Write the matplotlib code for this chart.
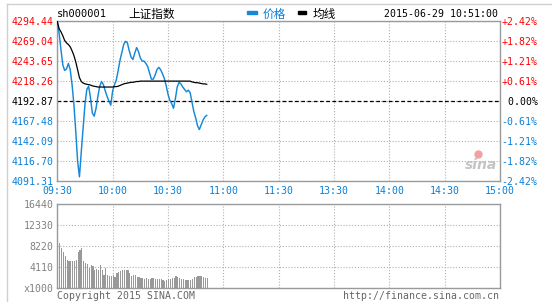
"""Intraday chart of sh000001 (上证指数) in the sina finance style."""

import numpy as np
import matplotlib.pyplot as plt
from matplotlib.patches import Rectangle
from matplotlib.lines import Line2D

W, H, DPI = 552, 302, 100

prev_close = 4192.87

# minute data 09:30 .. 10:51
price = [4294.4, 4279, 4258, 4239, 4232, 4234, 4241, 4233, 4214, 4189,
         4155, 4117, 4097, 4129, 4159, 4189, 4208, 4212, 4197, 4178,
         4174, 4184, 4199, 4212, 4218, 4214, 4206, 4199, 4193, 4188,
         4206, 4214, 4220, 4232, 4245, 4255, 4265, 4269, 4267, 4257,
         4249, 4246, 4254, 4261, 4256, 4248, 4244, 4244, 4241, 4237,
         4229, 4221, 4221, 4226, 4233, 4236, 4233, 4228, 4222, 4213,
         4202, 4194, 4190, 4184, 4196, 4211, 4217, 4215, 4211, 4208,
         4205, 4207, 4204, 4192, 4180, 4172, 4162, 4157, 4163, 4169,
         4173, 4175]
avg_price = [4294, 4285, 4281, 4276, 4270, 4267, 4265, 4262, 4257, 4251,
             4243, 4233, 4223, 4218, 4216, 4215, 4214.5, 4214, 4213.5, 4212.5,
             4212, 4211.5, 4211, 4211, 4211, 4211, 4211, 4211, 4211, 4211,
             4211, 4211.5, 4211.5, 4212, 4213, 4214, 4215, 4215.5, 4216, 4216.5,
             4217, 4217, 4217.5, 4218, 4218, 4218.5, 4218.5, 4218.5, 4218.5, 4218.5,
             4218.5, 4218.5, 4218.5, 4218.5, 4218.5, 4218.5, 4218.5, 4218.5, 4218.5, 4218.5,
             4218.5, 4218.5, 4218.5, 4218.5, 4218.5, 4218.5, 4218.5, 4218.5, 4218.5, 4218.5,
             4218.5, 4218.5, 4218.5, 4217.5, 4217, 4216.5, 4216.5, 4216, 4215.5, 4215,
             4215, 4214.5]
volume = [16440, 8890, 7800, 7020, 6240, 5590, 5265, 5395, 5265, 5395,
          5590, 7085, 7540, 7800, 5395, 4940, 4745, 3965, 4615, 4420,
          3510, 3835, 3640, 4615, 3510, 2665, 3965, 2665, 2340, 2470,
          2665, 2210, 2990, 3185, 3315, 3510, 3640, 3640, 3510, 2990,
          2470, 2665, 2535, 2210, 2270, 2070, 1940, 1810, 1940, 1810,
          1880, 1940, 2070, 1810, 1880, 1810, 1750, 1620, 1490, 1620,
          1750, 1880, 1940, 2070, 2460, 2270, 1940, 1810, 1750, 1550,
          1550, 1550, 1620, 1750, 2270, 2270, 2330, 2330, 2460, 2270,
          2070, 1940]

time_ticks = [0, 30, 60, 90, 120, 150, 180, 210, 240]
time_labels = ['09:30', '10:00', '10:30', '11:00', '11:30',
               '13:30', '14:00', '14:30', '15:00']
price_ticks = [4091.31, 4116.70, 4142.09, 4167.48, 4192.87,
               4218.26, 4243.65, 4269.04, 4294.44]
pct_labels = ['-2.42%', '-1.82%', '-1.21%', '-0.61%', ' 0.00%',
              '+0.61%', '+1.21%', '+1.82%', '+2.42%']
vol_ticks = [0, 4110, 8220, 12330, 16440]
vol_labels = ['x1000', '4110', '8220', '12330', '16440']

RED = '#ff0000'
BLUE = '#0a7fd6'
LINE_BLUE = '#1688d8'
FRAME = '#9a9a9a'
GRID = '#b0b0b0'
MONO = 'DejaVu Sans Mono'
CJK = ['Noto Sans CJK SC', 'DejaVu Sans']
FS = 7.1

plt.rcParams['font.family'] = MONO


def rect(l, t, r, b):
    return [l / W, 1 - b / H, (r - l) / W, (b - t) / H]


def fx(x):
    return x / W


def fy(y):
    return 1 - y / H


def style_frame(ax):
    for s in ax.spines.values():
        s.set_color(FRAME)
        s.set_linewidth(1.0)
    ax.tick_params(length=0, labelsize=FS)
    ax.grid(True, color=GRID, linestyle=(0, (1, 1.6)), linewidth=0.8)
    ax.set_axisbelow(True)


fig = plt.figure(figsize=(W / DPI, H / DPI), dpi=DPI)

# price panel
ax = fig.add_axes(rect(57.3, 21.3, 500, 181.3))
style_frame(ax)
x = np.arange(len(price))
ax.plot(x, price, color=LINE_BLUE, lw=1.05, zorder=3)
ax.plot(x, avg_price, color='black', lw=0.9, zorder=3)
ax.axhline(prev_close, color='black', lw=0.9, linestyle=(0, (3, 2)), zorder=2)
ax.set_xlim(0, 240)
ax.set_ylim(price_ticks[0], price_ticks[-1])
ax.set_xticks(time_ticks)
ax.set_xticklabels(time_labels, color=BLUE)
ax.set_yticks(price_ticks)
ax.set_yticklabels([f'{v:.2f}' for v in price_ticks])
ax.tick_params(axis='y', pad=2.9)
ax.tick_params(axis='x', pad=3.4)
for v, lab in zip(price_ticks, ax.get_yticklabels()):
    lab.set_color(RED if v > prev_close else BLUE if v < prev_close else 'black')

ax2 = ax.twinx()
ax2.set_ylim(ax.get_ylim())
ax2.set_yticks(price_ticks)
ax2.set_yticklabels(pct_labels)
ax2.tick_params(length=0, labelsize=FS, pad=1.2)
for s in ax2.spines.values():
    s.set_visible(False)
for v, lab in zip(price_ticks, ax2.get_yticklabels()):
    lab.set_color(RED if v > prev_close else BLUE if v < prev_close else 'black')

# volume panel
axv = fig.add_axes(rect(57.3, 204, 500, 288.3))
style_frame(axv)
axv.bar(x, volume, width=0.65, align='edge', color='#999999', linewidth=0,
        zorder=3)
axv.set_xlim(0, 240)
axv.set_ylim(0, vol_ticks[-1])
axv.set_xticks(time_ticks)
axv.set_xticklabels([])
axv.set_yticks(vol_ticks)
axv.set_yticklabels(vol_labels, color='#808080')
axv.tick_params(axis='y', pad=2.9)

# header
fig.text(fx(57), fy(14), 'sh000001', fontsize=FS + 0.4, va='center', ha='left')
fig.text(fx(128), fy(14), '上证指数', fontsize=8.4, va='center', ha='left',
         family=CJK)
fig.add_artist(Rectangle((fx(246.7), fy(14.2)), 10 / W, 3.2 / H,
                         transform=fig.transFigure, color=LINE_BLUE))
fig.text(fx(263), fy(14), '价格', fontsize=8.4, va='center', ha='left',
         color=BLUE, family=CJK)
fig.add_artist(Rectangle((fx(297.7), fy(14.2)), 8 / W, 3.2 / H,
                         transform=fig.transFigure, color='black'))
fig.text(fx(313), fy(14), '均线', fontsize=8.4, va='center', ha='left',
         family=CJK)
fig.text(fx(498), fy(14), '2015-06-29 10:51:00', fontsize=FS,
         va='center', ha='right')

# footer
fig.text(fx(57), fy(296), 'Copyright 2015 SINA.COM', fontsize=FS,
         va='center', ha='left', color='#666666')
fig.text(fx(498.5), fy(296), 'http://finance.sina.com.cn', fontsize=FS,
         va='center', ha='right', color='#666666')

# watermark
fig.text(fx(481), fy(165), 'sina', fontsize=10, style='italic',
         weight='bold', color='#c4c4c4', ha='center', va='center',
         family='DejaVu Sans')
fig.add_artist(Line2D([fx(478)], [fy(154)], marker='o', markersize=5,
                      color='#f4a0a0', transform=fig.transFigure))

# outer page frame
fig.add_artist(Line2D([fx(6.7), 1], [fy(4), fy(4)], color='#d0d0d0', lw=1,
                      transform=fig.transFigure))
fig.add_artist(Line2D([fx(6.7), fx(6.7)], [fy(4), 0], color='#d0d0d0', lw=1,
                      transform=fig.transFigure))

fig.savefig('out.png', dpi=DPI)
